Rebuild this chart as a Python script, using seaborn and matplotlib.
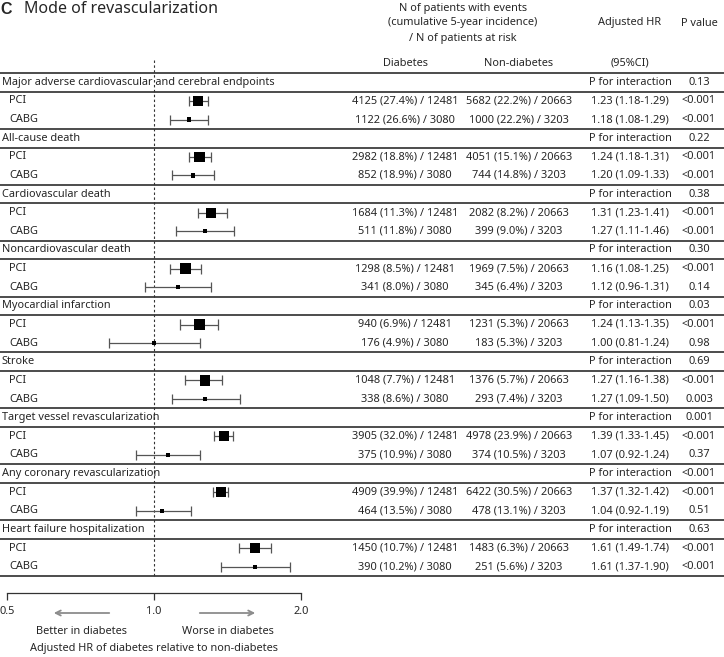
import numpy as np
import pandas as pd
import matplotlib
matplotlib.use('Agg')
import matplotlib.pyplot as plt
import seaborn as sns
from matplotlib.patches import FancyArrowPatch
from matplotlib.ticker import NullLocator

# Data
outcomes = ['Major adverse cardiovascular and cerebral endpoints', 'All-cause death',
            'Cardiovascular death', 'Noncardiovascular death', 'Myocardial infarction',
            'Stroke', 'Target vessel revascularization', 'Any coronary revascularization',
            'Heart failure hospitalization']
p_interaction = ['0.13', '0.22', '0.38', '0.30', '0.03', '0.69', '0.001', '<0.001', '0.63']
strata = ['PCI', 'CABG']

hr = [1.23, 1.18, 1.24, 1.20, 1.31, 1.27, 1.16, 1.12, 1.24, 1.00,
      1.27, 1.27, 1.39, 1.07, 1.37, 1.04, 1.61, 1.61]
ci_low = [1.18, 1.08, 1.18, 1.09, 1.23, 1.11, 1.08, 0.96, 1.13, 0.81,
          1.16, 1.09, 1.33, 0.92, 1.32, 0.92, 1.49, 1.37]
ci_high = [1.29, 1.29, 1.31, 1.33, 1.41, 1.46, 1.25, 1.31, 1.35, 1.24,
           1.38, 1.50, 1.45, 1.24, 1.42, 1.19, 1.74, 1.90]

diab_txt = ['4125 (27.4%) / 12481', '1122 (26.6%) / 3080',
            '2982 (18.8%) / 12481', '852 (18.9%) / 3080',
            '1684 (11.3%) / 12481', '511 (11.8%) / 3080',
            '1298 (8.5%) / 12481', '341 (8.0%) / 3080',
            '940 (6.9%) / 12481', '176 (4.9%) / 3080',
            '1048 (7.7%) / 12481', '338 (8.6%) / 3080',
            '3905 (32.0%) / 12481', '375 (10.9%) / 3080',
            '4909 (39.9%) / 12481', '464 (13.5%) / 3080',
            '1450 (10.7%) / 12481', '390 (10.2%) / 3080']
nondiab_txt = ['5682 (22.2%) / 20663', '1000 (22.2%) / 3203',
               '4051 (15.1%) / 20663', '744 (14.8%) / 3203',
               '2082 (8.2%) / 20663', '399 (9.0%) / 3203',
               '1969 (7.5%) / 20663', '345 (6.4%) / 3203',
               '1231 (5.3%) / 20663', '183 (5.3%) / 3203',
               '1376 (5.7%) / 20663', '293 (7.4%) / 3203',
               '4978 (23.9%) / 20663', '374 (10.5%) / 3203',
               '6422 (30.5%) / 20663', '478 (13.1%) / 3203',
               '1483 (6.3%) / 20663', '251 (5.6%) / 3203']
p_value = ['<0.001', '<0.001', '<0.001', '<0.001', '<0.001', '<0.001',
           '<0.001', '0.14', '<0.001', '0.98', '<0.001', '0.003',
           '<0.001', '0.37', '<0.001', '0.51', '<0.001', '<0.001']

# table of rows: each outcome has a title row followed by PCI and CABG rows
df = pd.DataFrame({
    'outcome': np.repeat(outcomes, 2),
    'stratum': strata * len(outcomes),
    'hr': hr, 'lo': ci_low, 'hi': ci_high,
})
df['row'] = [3 * i + 1 + j for i in range(len(outcomes)) for j in range(2)]

sns.set_style('white')
plt.rcParams['font.family'] = ['Noto Sans', 'DejaVu Sans']
FS = 7.9

W, H = 724, 657
fig = plt.figure(figsize=(W / 100, H / 100), dpi=100)


def fx(px):
    return px / W


def fy(py):
    return 1 - py / H


top, bottom = 73, 576
n_rows = 3 * len(outcomes)
row_h = (bottom - top) / n_rows


def row_y(r):
    return top + (r + 0.5) * row_h


x0, x1 = 7, 301
ax = fig.add_axes([fx(x0), fy(bottom), (x1 - x0) / W, (bottom - top) / H])
ax.set_xscale('log')

# separator lines across full width
sep = [-0.5] + [v for k in range(len(outcomes)) for v in (3 * k + 0.5, 3 * k + 2.5)]
for y in sep:
    ax.axhline(y, xmin=-x0 / (x1 - x0), xmax=(W - x0) / (x1 - x0), clip_on=False,
               color='#2e2e2e', lw=1.2)

# reference line at HR = 1
ax.plot([1, 1], [-1.2, n_rows - 0.5], ls=(0, (2.2, 2.2)), lw=0.8, color='#333333',
        clip_on=False)

# confidence intervals
ax.hlines(df['row'], df['lo'], df['hi'], color='#555555', lw=0.9)
ax.vlines(df['lo'], df['row'] - 0.27, df['row'] + 0.27, color='#555555', lw=0.9)
ax.vlines(df['hi'], df['row'] - 0.27, df['row'] + 0.27, color='#555555', lw=0.9)

sns.scatterplot(data=df, x='hr', y='row', size='stratum', sizes={'PCI': 55, 'CABG': 9},
                marker='s', color='black', linewidth=0, legend=False, ax=ax, zorder=3)
ax.set_xlim(0.5, 2.0)
ax.set_ylim(n_rows - 0.5, -0.5)
ax.axis('off')

# bottom axis
ax2 = fig.add_axes([fx(x0), fy(593), (x1 - x0) / W, 0.0001])
ax2.set_xscale('log')
ax2.set_xlim(0.5, 2.0)
ax2.set_xticks([0.5, 1.0, 2.0])
ax2.set_xticklabels(['0.5', '1.0', '2.0'])
ax2.xaxis.set_minor_locator(NullLocator())
ax2.set_yticks([])
for s in ['top', 'left', 'right']:
    ax2.spines[s].set_visible(False)
ax2.spines['bottom'].set_color('#333333')
ax2.spines['bottom'].set_linewidth(0.9)
ax2.tick_params(axis='x', direction='out', length=5, width=0.9, color='#333333',
                pad=4, labelsize=FS, bottom=True)

for start, end in [(112, 51), (197, 258)]:
    fig.add_artist(FancyArrowPatch((fx(start), fy(613)), (fx(end), fy(613)),
                                   transform=fig.transFigure, arrowstyle='->',
                                   mutation_scale=9, color='#8c8c8c', lw=1.3))
fig.text(fx(81), fy(632), 'Better in diabetes', ha='center', va='center', fontsize=FS)
fig.text(fx(228), fy(632), 'Worse in diabetes', ha='center', va='center', fontsize=FS)
fig.text(fx(154), fy(649), 'Adjusted HR of diabetes relative to non-diabetes',
         ha='center', va='center', fontsize=FS)

# title
fig.text(fx(0), fy(9), 'C', ha='left', va='center', fontsize=11.5, fontweight='bold',
         family=['Liberation Sans', 'DejaVu Sans'])
fig.text(fx(24), fy(9), 'Mode of revascularization', ha='left', va='center', fontsize=11.5)

# column headers
c_diab, c_non, c_hr, c_p = 405, 519, 630, 699
fig.text(fx(463), fy(8), 'N of patients with events', ha='center', va='center', fontsize=FS)
fig.text(fx(463), fy(23), '(cumulative 5-year incidence)', ha='center', va='center', fontsize=FS)
fig.text(fx(463), fy(38), '/ N of patients at risk', ha='center', va='center', fontsize=FS)
fig.text(fx(c_hr), fy(23), 'Adjusted HR', ha='center', va='center', fontsize=FS)
fig.text(fx(c_p), fy(23), 'P value', ha='center', va='center', fontsize=FS)
fig.text(fx(c_diab), fy(63), 'Diabetes', ha='center', va='center', fontsize=FS)
fig.text(fx(c_non), fy(63), 'Non-diabetes', ha='center', va='center', fontsize=FS)
fig.text(fx(c_hr), fy(63), '(95%CI)', ha='center', va='center', fontsize=FS)

# row texts
for i, name in enumerate(outcomes):
    r = 3 * i
    fig.text(fx(2), fy(row_y(r)), name, ha='left', va='center', fontsize=FS)
    fig.text(fx(c_hr), fy(row_y(r)), 'P for interaction', ha='center', va='center', fontsize=FS)
    fig.text(fx(c_p), fy(row_y(r)), p_interaction[i], ha='center', va='center', fontsize=FS)

for k, rec in df.reset_index().iterrows():
    yy = fy(row_y(rec['row']))
    fig.text(fx(9), yy, rec['stratum'], ha='left', va='center', fontsize=FS)
    fig.text(fx(c_diab), yy, diab_txt[k], ha='center', va='center', fontsize=FS)
    fig.text(fx(c_non), yy, nondiab_txt[k], ha='center', va='center', fontsize=FS)
    fig.text(fx(c_hr), yy, f"{rec['hr']:.2f} ({rec['lo']:.2f}-{rec['hi']:.2f})",
             ha='center', va='center', fontsize=FS)
    fig.text(fx(c_p), yy, p_value[k], ha='center', va='center', fontsize=FS)

fig.savefig('out.png', dpi=100)
